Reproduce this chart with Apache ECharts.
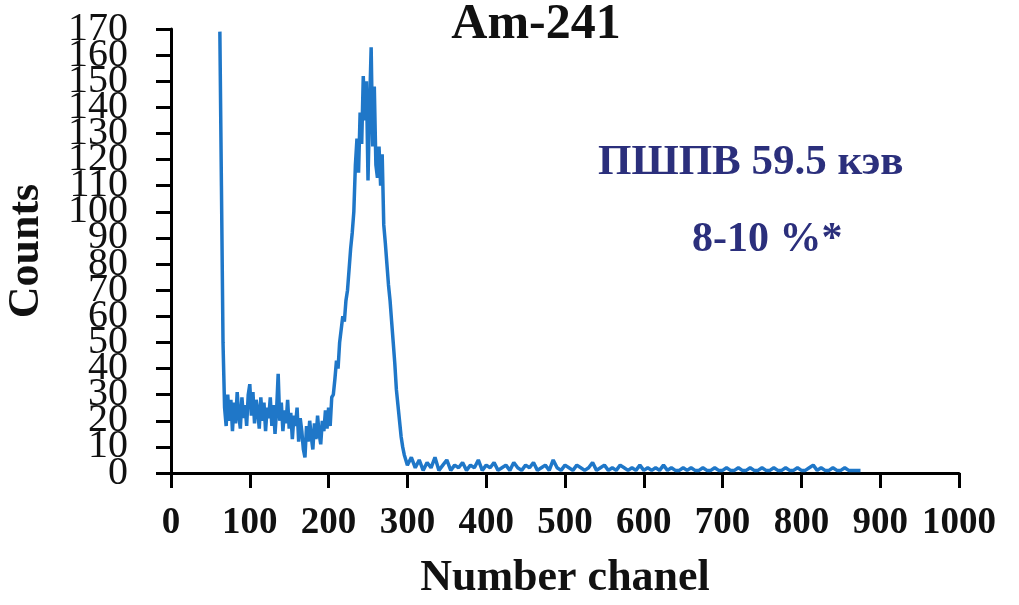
<!DOCTYPE html>
<html>
<head>
<meta charset="utf-8">
<script src="https://cdn.jsdelivr.net/npm/echarts@6/dist/echarts.min.js"></script>
<style>
html, body { margin: 0; padding: 0; background: #fff; }
#main { width: 1019px; height: 605px; }
</style>
</head>
<body>
<div id="main"></div>
<script>
// spectrum Am-241
// low part: channels 62..300 step 2
var lowStart = 62, lowStep = 2;
var lowCounts = [
    169, 110, 50, 25,
    18, 30, 20, 28, 16, 27, 19, 31, 22, 17,
    29, 21, 26, 18, 30, 34, 22, 31, 19, 28,
    24, 17, 29, 20, 27, 16, 25, 21, 29, 18,
    26, 15, 24, 38, 20, 27, 16, 24, 19, 28,
    17, 23, 13, 22, 18, 25, 12, 21, 16, 9,
    6, 18, 12, 20, 14, 9, 19, 13, 22, 15,
    11, 20, 16, 24, 17,
    25, 18, 29, 30, 36, 43, 40, 50, 55, 60,
    58, 66, 70, 78, 86, 92, 100, 118, 128, 115,
    138, 126, 152, 135, 150, 112, 140, 163, 125, 148,
    118, 113, 125, 110, 122, 95, 88, 80, 72, 66,
    58, 50, 42, 32, 26, 20, 14, 10, 7, 5, 3
];
// tail: channels 305..875 step 5
var tailStart = 305, tailStep = 5;
var tailCounts = [
    6, 2, 5, 1, 4, 2, 6, 1, 3, 5, 1, 3, 2, 4, 1, 3, 2, 5, 1, 3,
    2, 4, 1, 2, 3, 1, 4, 2, 1, 3, 2, 4, 1, 2, 3, 1, 5, 2, 1, 3,
    2, 1, 3, 2, 1, 2, 4, 1, 2, 3, 1, 2, 1, 3, 2, 1, 2, 1, 3, 1,
    2, 1, 2, 1, 3, 1, 2, 1, 1, 2, 1, 2, 1, 1, 2, 1, 1, 2, 1, 1,
    2, 1, 1, 2, 1, 1, 2, 1, 1, 2, 1, 1, 2, 1, 1, 2, 1, 1, 2, 1,
    1, 2, 3, 1, 2, 1, 1, 2, 1, 1, 2, 1, 1, 1, 1
];
var xTicks = [0, 1000, 100];
var yTicks = [0, 170, 10];

var points = [];
for (var i = 0; i < lowCounts.length; i++) {
    points.push([lowStart + i * lowStep, lowCounts[i]]);
}
for (var j = 0; j < tailCounts.length; j++) {
    points.push([tailStart + j * tailStep, tailCounts[j]]);
}

var serif = '"Liberation Serif", "DejaVu Serif", serif';
var navy = '#2b2f7c';

// the y labels overlap each other in the original, so they are split over
// two label-only axes (even and odd tens) to stop echarts hiding any of them
function labelAxis(keep) {
    return {
        type: 'value',
        position: 'left',
        min: yTicks[0],
        max: yTicks[1],
        interval: yTicks[2],
        splitLine: { show: false },
        axisLine: { show: false, onZero: false },
        axisTick: { show: false },
        axisLabel: {
            margin: 43, fontFamily: serif, fontSize: 40, color: '#111',
            showMinLabel: true, showMaxLabel: true, hideOverlap: false,
            formatter: function (v) { return (v % 20 === keep) ? String(v) : ''; }
        }
    };
}

var myChart = echarts.init(document.getElementById('main'));
var option = {
    animation: false,
    backgroundColor: '#fff',
    title: {
        text: 'Am-241',
        left: 531,
        top: -5,
        textAlign: 'center',
        textStyle: { fontFamily: serif, fontSize: 50, fontWeight: 'bold', color: '#111' }
    },
    grid: { left: 171, right: 60, top: 29, bottom: 132, outerBoundsMode: 'none' },
    xAxis: {
        type: 'value',
        min: xTicks[0],
        max: xTicks[1],
        interval: xTicks[2],
        name: 'Number chanel',
        nameLocation: 'middle',
        nameGap: 84,
        nameTextStyle: { fontFamily: serif, fontSize: 44, fontWeight: 'bold', color: '#111' },
        splitLine: { show: false },
        axisLine: { show: true, onZero: false, lineStyle: { color: '#000', width: 3 } },
        axisTick: { show: true, length: 15, lineStyle: { color: '#000', width: 3 } },
        axisLabel: {
            margin: 32, fontFamily: serif, fontSize: 37, fontWeight: 'bold', color: '#111',
            showMinLabel: true, showMaxLabel: true,
            formatter: function (v) { return String(v); }
        }
    },
    yAxis: [
        {
            // axis line and ticks
            type: 'value',
            min: yTicks[0],
            max: yTicks[1],
            interval: yTicks[2],
            name: 'Counts',
            nameLocation: 'middle',
            nameGap: 122,
            nameTextStyle: { fontFamily: serif, fontSize: 44, fontWeight: 'bold', color: '#111' },
            splitLine: { show: false },
            axisLine: { show: true, onZero: false, lineStyle: { color: '#000', width: 3 } },
            axisTick: { show: true, length: 15, lineStyle: { color: '#000', width: 3 } },
            axisLabel: { show: false }
        },
        labelAxis(0),
        labelAxis(10)
    ],
    graphic: [
        {
            type: 'text',
            left: 598,
            top: 141,
            style: { text: 'ПШПВ 59.5 кэв', fill: navy, font: 'bold 43px ' + serif }
        },
        {
            type: 'text',
            left: 692,
            top: 219,
            style: { text: '8-10 %*', fill: navy, font: 'bold 42px ' + serif }
        }
    ],
    series: [
        {
            type: 'line',
            yAxisIndex: 0,
            showSymbol: false,
            data: points,
            lineStyle: { color: '#1f77c8', width: 3.5 },
            itemStyle: { color: '#1f77c8' }
        }
    ]
};
myChart.setOption(option);
</script>
</body>
</html>
